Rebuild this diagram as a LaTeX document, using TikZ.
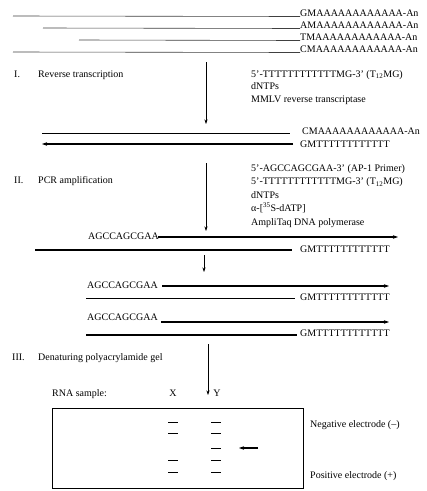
\documentclass[tikz,border=0pt]{standalone}
\usepackage{fontspec}
\setmainfont{Liberation Serif}
\usetikzlibrary{arrows.meta}
\begin{document}
\begin{tikzpicture}[x=1pt,y=-1pt,
  txt/.style={inner sep=0pt,anchor=base west,font=\fontsize{10}{12}\selectfont},
  rna/.style={draw=black!75,line width=0.6pt},
  thin/.style={draw=black,line width=0.6pt},
  strand/.style={draw=black,line width=1.4pt},
  tip/.style={-{Stealth[length=5pt,width=3.5pt]}},
  flow/.style={draw=black,line width=0.6pt,-{Stealth[length=4.5pt,width=3pt]}},
  band/.style={draw=black,line width=0.6pt},
  gel/.style={draw=black,line width=1pt}]
\useasboundingbox (0,0) rectangle (427,491);

% mRNA population with poly(A) tails
\node[txt] (r1) at (300,16.5) {GMAAAAAAAAAAAA-An};
\node[txt] (r2) at (300,28.5) {AMAAAAAAAAAAAA-An};
\node[txt] (r3) at (300,40.5) {TMAAAAAAAAAAAA-An};
\node[txt] (r4) at (300,52.5) {CMAAAAAAAAAAAA-An};
\coordinate (r1s) at (13,16);
\coordinate (r2s) at (43,28);
\coordinate (r3s) at (79,40);
\coordinate (r4s) at (13,52);
\draw[rna] (r1s) -- (r1.base west);
\draw[rna] (r2s) -- (r2.base west);
\draw[rna] (r3s) -- (r3.base west);
\draw[rna] (r4s) -- (r4.base west);

% Step I
\node[txt] (s1n) at (14,77) {I.};
\node[txt] (s1t) at (38,77) {Reverse transcription};
\node[txt] (s1a) at (251,77) {5'-TTTTTTTTTTTTMG-3' (T\textsubscript{12}MG)};
\node[txt] (s1b) at (251,89.5) {dNTPs};
\node[txt] (s1c) at (251,102) {MMLV reverse transcriptase};
\coordinate (a1s) at (206,62);
\coordinate (a1e) at (206,124);
\draw[flow] (a1s) -- (a1e);

\node[txt] (c1) at (302,134) {CMAAAAAAAAAAAA-An};
\node[txt] (c2) at (300,147) {GMTTTTTTTTTTTT};
\coordinate (c1s) at (42,133);
\coordinate (c1e) at (290,133);
\coordinate (c2s) at (293,144);
\coordinate (c2e) at (42,144);
\draw[thin] (c1s) -- (c1e);
\draw[strand,tip] (c2s) -- (c2e);

% Step II
\node[txt] (s2n) at (14,183) {II.};
\node[txt] (s2t) at (38,183) {PCR amplification};
\node[txt] (s2a) at (251,171) {5'-AGCCAGCGAA-3' (AP-1 Primer)};
\node[txt] (s2b) at (251,184.5) {5'-TTTTTTTTTTTTMG-3' (T\textsubscript{12}MG)};
\node[txt] (s2c) at (251,198) {dNTPs};
\node[txt] (s2d) at (251,211.5) {α-[\textsuperscript{35}S-dATP]};
\node[txt] (s2e) at (251,225) {AmpliTaq DNA polymerase};
\coordinate (a2s) at (206,163);
\coordinate (a2e) at (206,231);
\draw[flow] (a2s) -- (a2e);

% PCR products
\node[txt] (p1) at (88,239) {AGCCAGCGAA};
\node[txt] (q1) at (300,252) {GMTTTTTTTTTTTT};
\coordinate (p1s) at (158,237);
\coordinate (p1e) at (398,237);
\coordinate (q1s) at (35,250);
\coordinate (q1e) at (292,250);
\draw[strand,tip] (p1s) -- (p1e);
\draw[strand] (q1s) -- (q1e);

\coordinate (a3s) at (204,255);
\coordinate (a3e) at (204,272);
\draw[flow] (a3s) -- (a3e);

\node[txt] (p2) at (87,288) {AGCCAGCGAA};
\node[txt] (q2) at (300,300) {GMTTTTTTTTTTTT};
\coordinate (p2s) at (162,286);
\coordinate (p2e) at (389,286);
\coordinate (q2s) at (86,298.5);
\coordinate (q2e) at (295,298.5);
\draw[strand,tip] (p2s) -- (p2e);
\draw[strand] (q2s) -- (q2e);

\node[txt] (p3) at (87,320) {AGCCAGCGAA};
\node[txt] (q3) at (300,336) {GMTTTTTTTTTTTT};
\coordinate (p3s) at (161,322);
\coordinate (p3e) at (389,322);
\coordinate (q3s) at (86,335);
\coordinate (q3e) at (297,335);
\draw[strand,tip] (p3s) -- (p3e);
\draw[strand] (q3s) -- (q3e);

% Step III
\node[txt] (s3n) at (12,360) {III.};
\node[txt] (s3t) at (38,360) {Denaturing polyacrylamide gel};
\coordinate (a4s) at (208,344);
\coordinate (a4e) at (208,395);
\draw[flow] (a4s) -- (a4e);

\node[txt] (rs) at (52,396) {RNA sample:};
\node[txt,anchor=base] (lx) at (173,396) {X};
\node[txt,anchor=base] (ly) at (217,396) {Y};

% Gel
\node[gel,inner sep=0pt,minimum width=251pt,minimum height=80pt,anchor=north west] (box) at (52,408) {};
\foreach \yy in {422,433,460,472}
  \draw[band] (168,\yy) -- (178,\yy);
\foreach \yy in {422,433,448,460,472}
  \draw[band] (211,\yy) -- (221,\yy);
\coordinate (m1) at (258,448);
\coordinate (m2) at (239,448);
\draw[strand,line width=1.2pt,tip] (m1) -- (m2);

\node[txt] (neg) at (310,427) {Negative electrode (--)};
\node[txt] (pos) at (310,478) {Positive electrode (+)};
\end{tikzpicture}
\end{document}
